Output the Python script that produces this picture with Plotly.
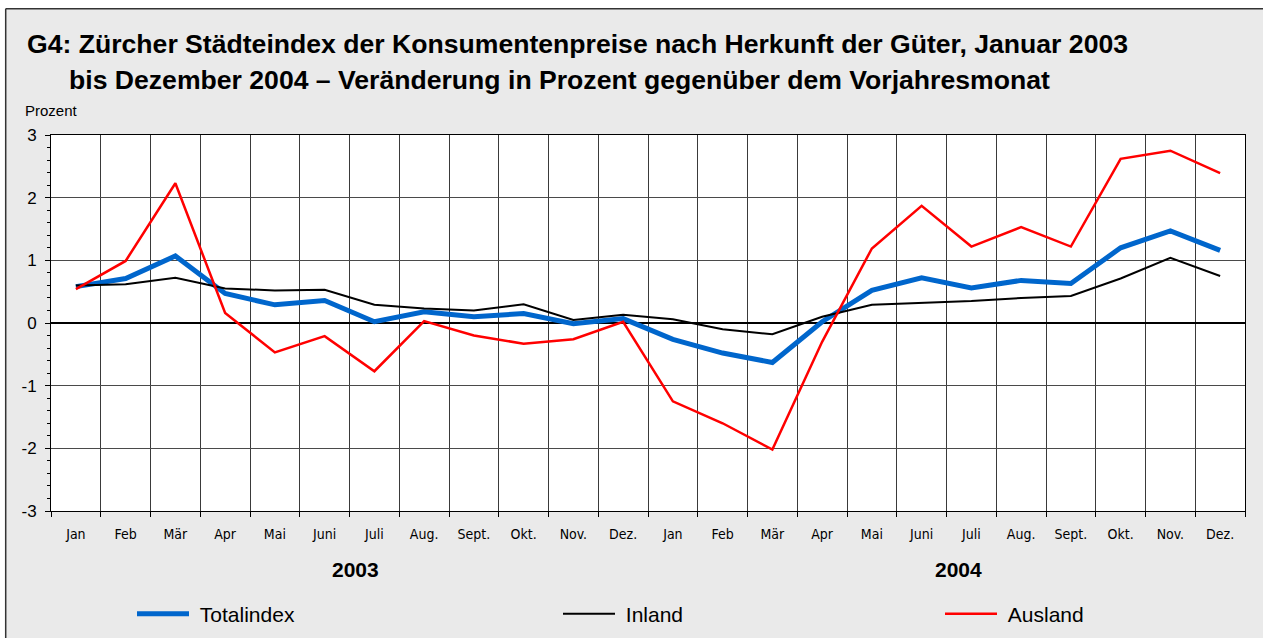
import plotly.graph_objects as go

# ---- data ----
months = ["Jan", "Feb", "Mär", "Apr", "Mai", "Juni", "Juli", "Aug.", "Sept.", "Okt.", "Nov.", "Dez.",
          "Jan", "Feb", "Mär", "Apr", "Mai", "Juni", "Juli", "Aug.", "Sept.", "Okt.", "Nov.", "Dez."]
years = ["2003", "2004"]
totalindex = [0.58, 0.71, 1.07, 0.47, 0.29, 0.36, 0.02, 0.18, 0.10, 0.15, -0.01, 0.07,
              -0.26, -0.48, -0.63, 0.02, 0.52, 0.72, 0.56, 0.68, 0.63, 1.20, 1.47, 1.16]
inland = [0.60, 0.62, 0.72, 0.55, 0.52, 0.53, 0.29, 0.23, 0.20, 0.30, 0.05, 0.13,
          0.06, -0.10, -0.18, 0.10, 0.29, 0.32, 0.35, 0.40, 0.43, 0.71, 1.04, 0.75]
ausland = [0.54, 0.99, 2.23, 0.16, -0.47, -0.21, -0.77, 0.03, -0.20, -0.33, -0.26, 0.02,
           -1.25, -1.60, -2.02, -0.30, 1.19, 1.87, 1.22, 1.53, 1.22, 2.62, 2.75, 2.39]
series_names = ["Totalindex", "Inland", "Ausland"]
y_ticks = [-3, -2, -1, 0, 1, 2, 3]
y_ticktext = ["-3", "-2", "-1", "0", "1", "2", "3"]

x_idx = list(range(len(months)))

W, H = 1263, 638
# plot area in page pixels
PL, PR, PT, PB = 51, 1245, 135, 511
L, T = PL, PT
R, B = W - PR, H - PB
pw, ph = PR - PL, PB - PT


def px_x(p):  # page pixel -> paper x
    return (p - PL) / pw


def px_y(p):  # page pixel -> paper y
    return (PB - p) / ph


FONT = "Liberation Sans, Arial, sans-serif"
NARROW = "Liberation Sans Narrow, Arial Narrow, DejaVu Sans Condensed, sans-serif"

fig = go.Figure()
fig.add_trace(go.Scatter(x=x_idx, y=totalindex, mode="lines", name="&nbsp;" + series_names[0],
                         line=dict(color="#0066CC", width=5), legend="legend"))
fig.add_trace(go.Scatter(x=x_idx, y=inland, mode="lines", name="&nbsp;" + series_names[1],
                         line=dict(color="#000000", width=2), legend="legend2"))
fig.add_trace(go.Scatter(x=x_idx, y=ausland, mode="lines", name="&nbsp;" + series_names[2],
                         line=dict(color="#FF0000", width=2.5), legend="legend3"))

legend_common = dict(orientation="h", yanchor="middle", xanchor="left", y=px_y(614),
                     font=dict(family=FONT, size=21, color="#000"), bgcolor="rgba(0,0,0,0)",
                     itemwidth=52, borderwidth=0)

fig.update_layout(
    width=W, height=H,
    margin=dict(l=L, r=R, t=T, b=B, autoexpand=False),
    paper_bgcolor="#EAEAEA",
    plot_bgcolor="#FFFFFF",
    showlegend=True,
    legend=dict(legend_common, x=px_x(132)),
    legend2=dict(legend_common, x=px_x(558)),
    legend3=dict(legend_common, x=px_x(940)),
    xaxis=dict(
        range=[-0.5, len(months) - 0.5],
        tickmode="array", tickvals=x_idx, ticktext=months,
        ticks="", showgrid=False, zeroline=False,
        tickfont=dict(family=NARROW, size=14, color="#000"),
        ticklabelstandoff=10,
        showline=True, linecolor="#000", linewidth=1, mirror=True,
        minor=dict(tick0=-0.5, dtick=1, ticks="outside", ticklen=5, tickcolor="#000",
                   showgrid=True, gridcolor="#3a3a3a", gridwidth=1),
        fixedrange=True,
    ),
    yaxis=dict(
        range=[-3, 3], tickmode="array", tickvals=y_ticks, ticktext=y_ticktext,
        ticks="outside", ticklen=5, tickcolor="#000",
        showgrid=True, gridcolor="#4a4a4a", gridwidth=1,
        zeroline=True, zerolinecolor="#000", zerolinewidth=1.5,
        tickfont=dict(family=FONT, size=17, color="#000"),
        ticklabelstandoff=5,
        showline=True, linecolor="#000", linewidth=1, mirror=True,
        minor=dict(tick0=0, dtick=0.2, ticks="outside", ticklen=3, tickcolor="#000", showgrid=False),
        fixedrange=True,
    ),
    shapes=[
        # white page strips outside the grey chart frame
        dict(type="rect", xref="paper", yref="paper", x0=px_x(-2), x1=px_x(5), y0=px_y(H + 2), y1=px_y(-2),
             fillcolor="#FFFFFF", line=dict(width=0), layer="below"),
        dict(type="rect", xref="paper", yref="paper", x0=px_x(-2), x1=px_x(W + 2), y0=px_y(8), y1=px_y(-2),
             fillcolor="#FFFFFF", line=dict(width=0), layer="below"),
        dict(type="line", xref="paper", yref="paper", x0=px_x(5.7), x1=px_x(W + 5), y0=px_y(8.7), y1=px_y(8.7),
             line=dict(color="#333333", width=1.5), layer="below"),
        dict(type="line", xref="paper", yref="paper", x0=px_x(5.7), x1=px_x(5.7), y0=px_y(8.7), y1=px_y(H + 5),
             line=dict(color="#333333", width=1.5), layer="below"),
    ],
    annotations=[
        dict(text="<b>G4: Zürcher Städteindex der Konsumentenpreise nach Herkunft der Güter, Januar 2003</b>",
             xref="paper", yref="paper", x=px_x(25), y=px_y(44), xanchor="left", yanchor="middle",
             showarrow=False, font=dict(family=FONT, size=26.6, color="#000")),
        dict(text="<b>bis Dezember 2004 – Veränderung in Prozent gegenüber dem Vorjahresmonat</b>",
             xref="paper", yref="paper", x=px_x(67), y=px_y(80), xanchor="left", yanchor="middle",
             showarrow=False, font=dict(family=FONT, size=26.6, color="#000")),
        dict(text="Prozent", xref="paper", yref="paper", x=px_x(23), y=px_y(110),
             xanchor="left", yanchor="middle", showarrow=False,
             font=dict(family=FONT, size=15, color="#000")),
        dict(text="<b>" + years[0] + "</b>", xref="x", yref="paper", x=5.63, y=px_y(569),
             xanchor="center", yanchor="middle", showarrow=False,
             font=dict(family=FONT, size=21, color="#000")),
        dict(text="<b>" + years[1] + "</b>", xref="x", yref="paper", x=17.74, y=px_y(569),
             xanchor="center", yanchor="middle", showarrow=False,
             font=dict(family=FONT, size=21, color="#000")),
    ],
)

fig.write_html(
    "out.html",
    config={"displayModeBar": False},
    post_script="document.body.style.margin='0';document.body.style.overflow='hidden';",
)
